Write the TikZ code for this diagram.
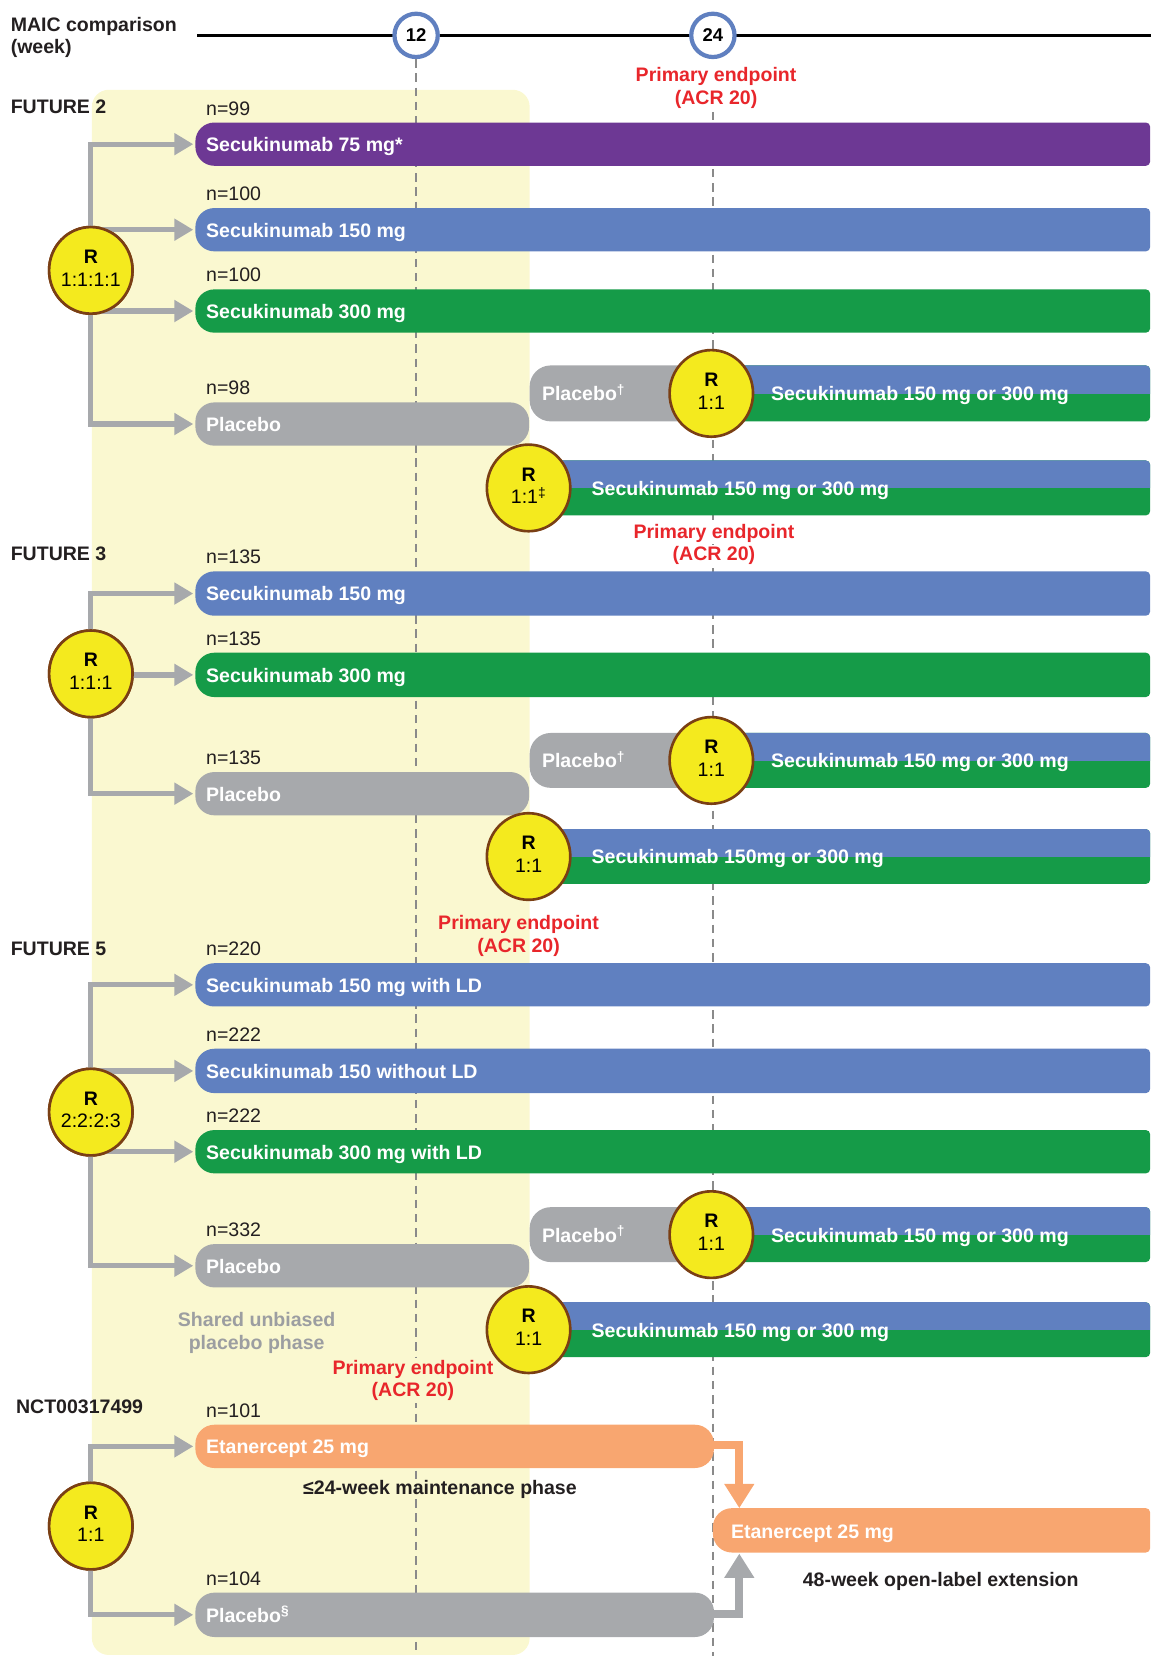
\documentclass[tikz,border=0pt]{standalone}
\usepackage{fontspec}
\setmainfont{Liberation Sans}
\usetikzlibrary{arrows.meta,shapes.geometric}
\definecolor{cpurple}{HTML}{6D3894}
\definecolor{cblue}{HTML}{6080C0}
\definecolor{cgreen}{HTML}{159B48}
\definecolor{cgrey}{HTML}{A7A9AC}
\definecolor{corange}{HTML}{F8A670}
\definecolor{cband}{HTML}{FAF8D0}
\definecolor{cyel}{HTML}{F4EA1E}
\definecolor{cbrown}{HTML}{7A3F14}
\definecolor{cred}{HTML}{E8262B}
\definecolor{cdash}{HTML}{8A8A8A}
\definecolor{cshared}{HTML}{9C9EA1}
\definecolor{ctext}{HTML}{231F20}
% bar with rounded left end (radius #6) and slightly rounded right end
\newcommand\lbar[6]{%
  \fill[#1,rounded corners=#6] ({(#2+#3)/2},#4) -- (#2,#4) -- (#2,#5) -- ({(#2+#3)/2},#5) [rounded corners=4pt] -- (#3,#5) -- (#3,#4) -- cycle;}
% bar rounded at both ends
\newcommand\rbar[6]{\fill[#1,rounded corners=#6] (#2,#4) rectangle (#3,#5);}
% blue over green split bar: xl, ytop, ymid, ybottom
\newcommand\splitbar[4]{%
  \lbar{cgreen}{#1}{1089}{#2}{#4}{0.1pt}
  \begin{scope}\clip (#1-2,#2-2) rectangle (1095,#3); \lbar{cblue}{#1}{1089}{#2}{#4}{0.1pt}\end{scope}}
\newcommand\fs{\fontsize{18.5}{22}\selectfont}
\begin{document}
\begin{tikzpicture}[x=1pt,y=-1pt,
  every node/.style={inner sep=0pt},
  font=\fs,
  bartext/.style={anchor=base west,text=white,font=\fs\bfseries},
  nlab/.style={anchor=base west,text=ctext},
  head/.style={anchor=base west,text=ctext,font=\fs\bfseries},
  redlab/.style={anchor=base,text=cred,font=\fs\bfseries},
  rcirc/.style={ellipse,draw=cbrown,line width=2.5pt,fill=cyel,minimum width=79pt,minimum height=82pt},
  rtop/.style={anchor=base,text=black,font=\fs\bfseries},
  rbot/.style={anchor=base,text=black},
  wk/.style={circle,draw=cblue,line width=4pt,fill=white,minimum size=41pt,font=\fontsize{17.5}{20}\selectfont\bfseries},
  tree/.style={draw=cgrey,line width=5pt,-{Triangle[length=18pt,width=20pt]}},
  oconn/.style={draw=corange,line width=7.5pt,-{Triangle[length=23pt,width=27pt]}},
  gconn/.style={draw=cgrey,line width=7.5pt,-{Triangle[length=23pt,width=27pt]}},
  dashline/.style={draw=cdash,line width=2pt,dash pattern=on 8pt off 5.5pt}]
\useasboundingbox (0,0) rectangle (1090,1568);
% shared placebo band
\fill[cband,rounded corners=16pt] (87,85) rectangle (501.5,1567);
% timeline
\coordinate (tls) at (187,33.5);
\coordinate (tle) at (1090,33.5);
\draw[line width=3pt,black] (tls) -- (tle);
\node[wk] (w12) at (394,33.5) {12};
\node[wk] (w24) at (675,33.5) {24};
\coordinate (d12) at (394,1568);
\coordinate (d24t) at (675,106);
\coordinate (d24) at (675,1568);
\draw[dashline] (w12.south) -- (d12);
\draw[dashline] (d24t) -- (d24);
\node[head] (maic1) at (10,29.5) {MAIC comparison};
\node[head] (maic2) at (10,50.5) {(week)};
\node[redlab] (pe0a) at (678,77.3) {Primary endpoint};
\node[redlab] (pe0b) at (678,98.5) {(ACR 20)};

% ---------------- tree connectors ----------------
\node[rcirc] (r2) at (86,256) {};
\coordinate (a21) at (183,136.5);
\coordinate (a22) at (183,217.5);
\coordinate (a23) at (183,294.5);
\coordinate (a24) at (183,401.5);
\foreach \t in {a21,a22,a23,a24} \draw[tree] (r2.center) |- (\t);
\node[rcirc] (r3) at (86,638) {};
\coordinate (a31) at (183,562);
\coordinate (a32) at (183,639);
\coordinate (a33) at (183,751.5);
\foreach \t in {a31,a32,a33} \draw[tree] (r3.center) |- (\t);
\node[rcirc] (r5) at (86,1053) {};
\coordinate (a51) at (183,932.5);
\coordinate (a52) at (183,1014);
\coordinate (a53) at (183,1090.5);
\coordinate (a54) at (183,1198.5);
\foreach \t in {a51,a52,a53,a54} \draw[tree] (r5.center) |- (\t);
\node[rcirc] (rn) at (86,1445) {};
\coordinate (an1) at (183,1369.5);
\coordinate (an2) at (183,1529);
\foreach \t in {an1,an2} \draw[tree] (rn.center) |- (\t);
% redraw circles on top of connectors
\node[rcirc] (r2c) at (r2) {};
\node[rcirc] (r3c) at (r3) {};
\node[rcirc] (r5c) at (r5) {};
\node[rcirc] (rnc) at (rn) {};
\node[rtop] (r2t) at (86,249.5) {R};
\node[rbot] (r2b) at (86,271) {1:1:1:1};
\node[rtop] (r3t) at (86,631.5) {R};
\node[rbot] (r3b) at (86,653) {1:1:1};
\node[rtop] (r5t) at (86,1046.5) {R};
\node[rbot] (r5b) at (86,1068) {2:2:2:3};
\node[rtop] (rnt) at (86,1438.5) {R};
\node[rbot] (rnb) at (86,1460) {1:1};

% NCT connectors to extension
\coordinate (eo) at (660,1368);
\coordinate (ei) at (700,1428);
\coordinate (go) at (660,1528);
\coordinate (gi) at (700,1471);
\draw[oconn] (eo) -| (ei);
\draw[gconn] (go) -| (gi);

% ---------------- FUTURE 2 ----------------
\node[head] (f2) at (10,107.3) {FUTURE 2};
\lbar{cpurple}{185}{1089}{116}{157}{18pt}
\node[nlab] (n21) at (195,109) {n=99};
\node[bartext] (t21) at (195,143.5) {Secukinumab 75 mg*};
\lbar{cblue}{185}{1089}{197}{238}{18pt}
\node[nlab] (n22) at (195,190) {n=100};
\node[bartext] (t22) at (195,224.5) {Secukinumab 150 mg};
\lbar{cgreen}{185}{1089}{274}{315}{18pt}
\node[nlab] (n23) at (195,267) {n=100};
\node[bartext] (t23) at (195,301.5) {Secukinumab 300 mg};
\rbar{cgrey}{185}{501}{381}{422}{18pt}
\node[nlab] (n24) at (195,374) {n=98};
\node[bartext] (t24) at (195,408.5) {Placebo};
\lbar{cgrey}{501.5}{700}{346}{399}{20pt}
\node[bartext] (t25) at (513,379.5) {Placebo\textsuperscript{†}};
\splitbar{673}{346}{372.5}{399}
\node[rcirc] (r21) at (673.5,372.5) {};
\node[rtop] (r21t) at (673.5,366) {R};
\node[rbot] (r21b) at (673.5,387.5) {1:1};
\node[bartext] (t26) at (730,379.5) {Secukinumab 150 mg or 300 mg};
\splitbar{500}{436}{462}{488}
\node[rcirc] (r22) at (500.5,462) {};
\node[rtop] (r22t) at (500.5,455.5) {R};
\node[rbot] (r22b) at (500.5,477) {1:1\textsuperscript{‡}};
\node[bartext] (t27) at (560,469) {Secukinumab 150 mg or 300 mg};
\node[redlab,fill=white,inner sep=2pt] (pe2a) at (676,509.5) {Primary endpoint};
\node[redlab,fill=white,inner sep=2pt] (pe2b) at (676,531) {(ACR 20)};

% ---------------- FUTURE 3 ----------------
\node[head] (f3) at (10,531) {FUTURE 3};
\lbar{cblue}{185}{1089}{541}{583}{18pt}
\node[nlab] (n31) at (195,534) {n=135};
\node[bartext] (t31) at (195,569) {Secukinumab 150 mg};
\lbar{cgreen}{185}{1089}{618}{660}{18pt}
\node[nlab] (n32) at (195,611) {n=135};
\node[bartext] (t32) at (195,646) {Secukinumab 300 mg};
\rbar{cgrey}{185}{501}{731}{772}{18pt}
\node[nlab] (n33) at (195,724) {n=135};
\node[bartext] (t33) at (195,758.5) {Placebo};
\lbar{cgrey}{501.5}{700}{694}{746}{20pt}
\node[bartext] (t34) at (513,727) {Placebo\textsuperscript{†}};
\splitbar{673}{694}{720}{746}
\node[rcirc] (r31) at (673.5,720) {};
\node[rtop] (r31t) at (673.5,713.5) {R};
\node[rbot] (r31b) at (673.5,735) {1:1};
\node[bartext] (t35) at (730,727) {Secukinumab 150 mg or 300 mg};
\splitbar{500}{785}{811}{837}
\node[rcirc] (r32) at (500.5,811) {};
\node[rtop] (r32t) at (500.5,804.5) {R};
\node[rbot] (r32b) at (500.5,826) {1:1};
\node[bartext] (t36) at (560,818) {Secukinumab 150mg or 300 mg};
\node[redlab] (pe3a) at (491,880.5) {Primary endpoint};
\node[redlab] (pe3b) at (491,902) {(ACR 20)};

% ---------------- FUTURE 5 ----------------
\node[head] (f5) at (10,904.5) {FUTURE 5};
\lbar{cblue}{185}{1089}{912}{953}{18pt}
\node[nlab] (n51) at (195,905) {n=220};
\node[bartext] (t51) at (195,939.5) {Secukinumab 150 mg with LD};
\lbar{cblue}{185}{1089}{993}{1035}{18pt}
\node[nlab] (n52) at (195,986) {n=222};
\node[bartext] (t52) at (195,1021) {Secukinumab 150 without LD};
\lbar{cgreen}{185}{1089}{1070}{1111}{18pt}
\node[nlab] (n53) at (195,1063) {n=222};
\node[bartext] (t53) at (195,1097.5) {Secukinumab 300 mg with LD};
\rbar{cgrey}{185}{501}{1178}{1219}{18pt}
\node[nlab] (n54) at (195,1171) {n=332};
\node[bartext] (t54) at (195,1205.5) {Placebo};
\lbar{cgrey}{501.5}{700}{1143}{1195}{20pt}
\node[bartext] (t55) at (513,1176) {Placebo\textsuperscript{†}};
\splitbar{673}{1143}{1169}{1195}
\node[rcirc] (r51) at (673.5,1169) {};
\node[rtop] (r51t) at (673.5,1162.5) {R};
\node[rbot] (r51b) at (673.5,1184) {1:1};
\node[bartext] (t56) at (730,1176) {Secukinumab 150 mg or 300 mg};
\splitbar{500}{1233}{1259}{1285}
\node[rcirc] (r52) at (500.5,1259) {};
\node[rtop] (r52t) at (500.5,1252.5) {R};
\node[rbot] (r52b) at (500.5,1274) {1:1};
\node[bartext] (t57) at (560,1266) {Secukinumab 150 mg or 300 mg};
\node[anchor=base,text=cshared,font=\fs\bfseries] (sh1) at (243,1256) {Shared unbiased};
\node[anchor=base,text=cshared,font=\fs\bfseries] (sh2) at (243,1278) {placebo phase};
\node[redlab,fill=cband,inner sep=2pt] (pe5a) at (391,1301) {Primary endpoint};
\node[redlab,fill=cband,inner sep=2pt] (pe5b) at (391,1322.6) {(ACR 20)};

% ---------------- NCT00317499 ----------------
\node[head] (fn) at (15,1338.5) {NCT00317499};
\rbar{corange}{185}{676}{1349}{1390}{18pt}
\node[nlab] (nn1) at (195,1342) {n=101};
\node[bartext] (tn1) at (195,1376.5) {Etanercept 25 mg};
\node[anchor=base,text=ctext,font=\fs\bfseries] (mph) at (416.6,1415) {≤24-week maintenance phase};
\lbar{corange}{675}{1089}{1428}{1470}{18pt}
\node[bartext] (tn2) at (692,1456.5) {Etanercept 25 mg};
\node[anchor=base,text=ctext,font=\fs\bfseries] (ole) at (890.7,1502) {48-week open-label extension};
\rbar{cgrey}{185}{676}{1508}{1550}{18pt}
\node[nlab] (nn2) at (195,1501) {n=104};
\node[bartext] (tn3) at (195,1536) {Placebo\textsuperscript{§}};
\end{tikzpicture}
\end{document}
